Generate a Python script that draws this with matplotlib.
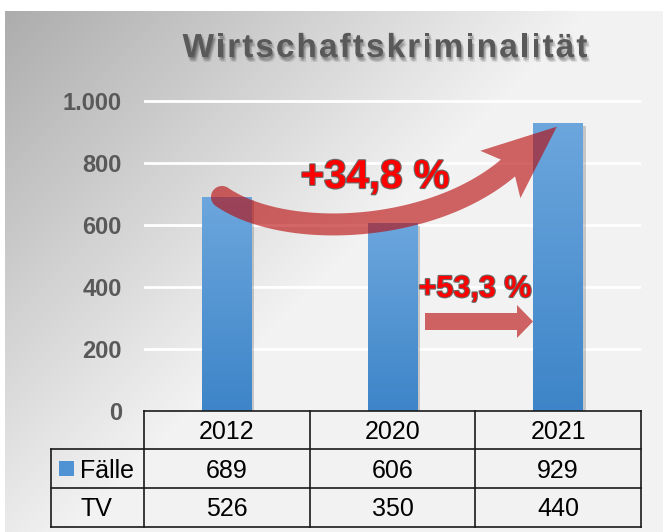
import numpy as np
import matplotlib
matplotlib.use("Agg")
import matplotlib.pyplot as plt
from matplotlib.patches import Polygon, Rectangle
from matplotlib.colors import LinearSegmentedColormap
from matplotlib import patheffects as pe
from matplotlib.font_manager import FontProperties

plt.rcParams["font.family"] = ["Liberation Sans", "DejaVu Sans"]

TITLE = "Wirtschaftskriminalität"
YEARS = ["2012", "2020", "2021"]
FAELLE = [689, 606, 929]
TV = [526, 350, 440]
ROW_LABELS = ["Fälle", "TV"]
Y_TICKS = [0, 200, 400, 600, 800, 1000]
CHANGE_TOTAL = "+34,8 %"
CHANGE_LAST = "+53,3 %"

W, H = 663, 532
fig = plt.figure(figsize=(W / 100, H / 100), dpi=100)

# diagonal grey gradient behind everything
bg = fig.add_axes([0, 0, 1, 1], zorder=-10)
yy, xx = np.mgrid[0:H, 0:W]
g = 0.95 - 0.28 * np.clip(1 - (xx + yy) / 600, 0, 1)
img = np.dstack([g, g, g])
img[:11, :] = 1
img[:, :5] = 1
bg.imshow(img, extent=(0, W, H, 0), aspect="auto", interpolation="bilinear")
bg.set_xlim(0, W)
bg.set_ylim(H, 0)
bg.axis("off")

# chart area: x from 144 to 641 px, y=0 at 411 px, 0.31 px per case
ax = fig.add_axes([144 / W, (H - 411) / H, 497 / W, 341 / H])
ax.patch.set_alpha(0)
for s in ax.spines.values():
    s.set_visible(False)
x = np.arange(len(YEARS))
for v in Y_TICKS[1:]:
    ax.axhline(v, color="white", lw=2, zorder=1)

bars = ax.bar(x, FAELLE, width=0.3, color="#4f93d4", zorder=2)
cmap = LinearSegmentedColormap.from_list("bar", ["#3d85c8", "#6ca6dd"])
grad = np.linspace(0, 1, 256).reshape(-1, 1)
for b in bars:
    b.set_path_effects([pe.SimplePatchShadow(offset=(2, -2), alpha=0.25, shadow_rgbFace="#444444"), pe.Normal()])
    im = ax.imshow(grad, extent=(b.get_x(), b.get_x() + b.get_width(), 0, b.get_height()),
                   origin="lower", cmap=cmap, aspect="auto", zorder=3)
    im.set_clip_path(b)

ax.set_xlim(-0.5, len(YEARS) - 0.5)
ax.set_ylim(0, 1100)
ax.set_xticks([])
ax.set_yticks(Y_TICKS)
ax.set_yticklabels([f"{v:,}".replace(",", ".") for v in Y_TICKS],
                   fontsize=17, fontweight="bold", color="#595959")
ax.tick_params(axis="y", length=0, pad=16)

# overlay in image pixel coordinates for title, arrows and the data table
deco = fig.add_axes([0, 0, 1, 1], zorder=5)
deco.set_xlim(0, W)
deco.set_ylim(H, 0)
deco.axis("off")

# title with a bit of letter spacing and a soft shadow
fp = FontProperties(family=["Liberation Sans", "DejaVu Sans"], weight="bold", size=24)
rend = fig.canvas.get_renderer()
def tw(s):
    if not s:
        return 0.0
    return rend.get_text_width_height_descent(s, fp, ismath=False)[0]
gap = 2.0
total = tw(TITLE) + gap * (len(TITLE) - 1)
x0 = 385 - total / 2
shadow = [pe.SimplePatchShadow(offset=o, alpha=0.09, shadow_rgbFace="black")
          for o in [(0.5, -1.5), (1.5, -2.5), (2, -3.5), (0.5, -3), (1.5, -1)]] + [pe.Normal()]
for i, ch in enumerate(TITLE):
    deco.text(x0 + tw(TITLE[:i]) + gap * i, 57, ch, fontproperties=fp, color="#595959",
              ha="left", va="baseline", path_effects=shadow)

# curved arrow
arrow_col = "#b90808"
P = [np.array(p, float) for p in [(222, 197), (285, 240), (430, 234), (508, 168)]]
t = np.linspace(0, 1, 100)[:, None]
pts = (1 - t) ** 3 * P[0] + 3 * (1 - t) ** 2 * t * P[1] + 3 * (1 - t) * t ** 2 * P[2] + t ** 3 * P[3]
d = 3 * (1 - t) ** 2 * (P[1] - P[0]) + 6 * (1 - t) * t * (P[2] - P[1]) + 3 * t ** 2 * (P[3] - P[2])
d /= np.linalg.norm(d, axis=1)[:, None]
n = np.column_stack([-d[:, 1], d[:, 0]])
half = 11
left = pts + half * n
right = pts - half * n
end, dv, nv = pts[-1], d[-1], n[-1]
tip = end + 64 * dv
b1 = end + 31 * nv - 10 * dv
b2 = end - 31 * nv - 10 * dv
a_n = np.arctan2(n[0, 1], n[0, 0])
ang = np.linspace(a_n + np.pi, a_n, 30)
cap = pts[0] + half * np.column_stack([np.cos(ang), np.sin(ang)])
poly = np.vstack([left, [b1, tip, b2], right[::-1], cap])
deco.add_patch(Polygon(poly, closed=True, facecolor=arrow_col, edgecolor="none", alpha=0.62))

# straight arrow 2020 -> 2021
deco.add_patch(Polygon([(425, 313), (517, 313), (517, 305), (533, 321.5), (517, 338), (517, 330), (425, 330)],
                       closed=True, facecolor=arrow_col, edgecolor="none", alpha=0.62))

outline = [pe.withStroke(linewidth=1.6, foreground="#6a6a6a")]
deco.text(375, 188, CHANGE_TOTAL, fontsize=29, fontweight="bold", color="red",
          ha="center", va="baseline", path_effects=outline)
deco.text(475, 297, CHANGE_LAST, fontsize=22, fontweight="bold", color="red",
          ha="center", va="baseline", path_effects=outline)

# data table
L, R = 144, 641
colw = (R - L) / len(YEARS)
rows_y = [411, 449, 488, 527]
lab_l = 51
lc, lw = "#1a1a1a", 1.2
deco.plot([L, R], [rows_y[0]] * 2, color=lc, lw=lw)
for y in rows_y[1:]:
    deco.plot([lab_l, R], [y, y], color=lc, lw=lw)
deco.plot([lab_l, lab_l], [rows_y[1], rows_y[3]], color=lc, lw=lw)
for i in range(len(YEARS) + 1):
    xc = L + i * colw
    deco.plot([xc, xc], [rows_y[0], rows_y[3]], color=lc, lw=lw)

base = [439, 477.5, 516.5]
for i, yr in enumerate(YEARS):
    cx = L + (i + 0.5) * colw
    deco.text(cx, base[0], yr, fontsize=18, ha="center", va="baseline", color="black")
    deco.text(cx, base[1], str(FAELLE[i]), fontsize=18, ha="center", va="baseline", color="black")
    deco.text(cx, base[2], str(TV[i]), fontsize=18, ha="center", va="baseline", color="black")

deco.add_patch(Rectangle((59, 461), 15, 15, facecolor="#4f93d4", edgecolor="none"))
deco.text(80, base[1], ROW_LABELS[0], fontsize=18, ha="left", va="baseline", color="black")
deco.text(96, base[2], ROW_LABELS[1], fontsize=18, ha="center", va="baseline", color="black")

fig.savefig("out.png", dpi=100)
